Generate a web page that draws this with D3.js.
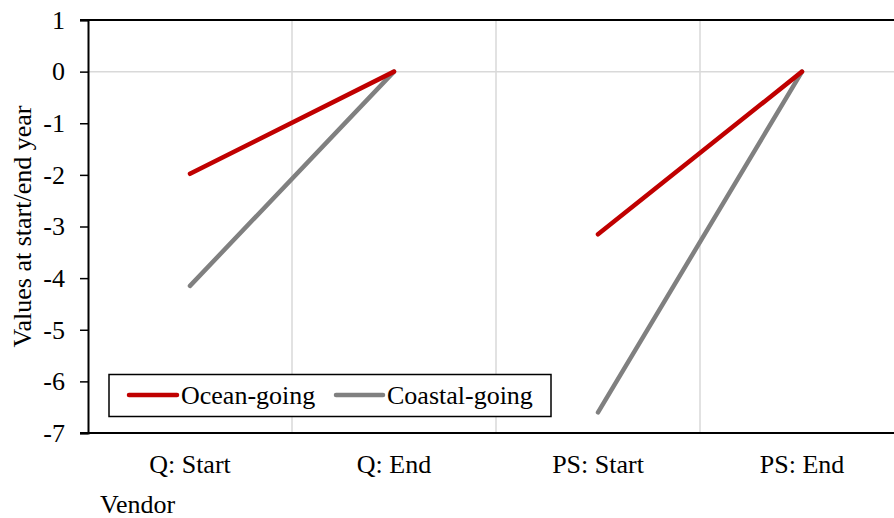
<!DOCTYPE html>
<html>
<head>
<meta charset="utf-8">
<script src="https://cdn.jsdelivr.net/npm/d3@7"></script>
<style>
  body { margin: 0; background: #fff; }
  svg text { font-family: "Liberation Serif", "Times New Roman", Times, serif; fill: #000; }
</style>
</head>
<body>
<svg id="chart" width="894" height="518"></svg>
<script>
// categories along the x axis
const categories = ['Q: Start', 'Q: End', 'PS: Start', 'PS: End'];
// two segments per series: Q start->end, PS start->end
const oceanGoing = [-1.98, 0, -3.15, 0];
const coastalGoing = [-4.15, 0, -6.6, 0];
const seriesNames = ['Ocean-going', 'Coastal-going'];
const seriesColors = ['#c00000', '#808080'];
const yTicks = [1, 0, -1, -2, -3, -4, -5, -6, -7];

const width = 894;
const height = 518;
const margin = { left: 88, top: 20, bottom: 85 };
const plotRight = 904; // plot runs a bit past the picture edge
const serif = '"Liberation Serif", "Times New Roman", Times, serif';
const fontSize = 26;

const svg = d3.select('#chart');

const x = d3.scaleBand()
	.domain(categories)
	.range([margin.left, plotRight]);

const y = d3.scaleLinear()
	.domain([-7, 1])
	.range([height - margin.bottom, margin.top]);

// vertical gridlines between categories
svg.append('g')
	.selectAll('line')
	.data(categories.slice(1))
	.join('line')
	.attr('x1', (d) => x(d))
	.attr('x2', (d) => x(d))
	.attr('y1', y(1))
	.attr('y2', y(-7))
	.attr('stroke', '#d9d9d9')
	.attr('stroke-width', 1.5);

// horizontal gridline at zero
svg.append('line')
	.attr('x1', margin.left)
	.attr('x2', width)
	.attr('y1', y(0))
	.attr('y2', y(0))
	.attr('stroke', '#d9d9d9')
	.attr('stroke-width', 1.5);

// top and bottom border lines
[1, -7].forEach((v) => {
	svg.append('line')
		.attr('x1', margin.left - 8)
		.attr('x2', width)
		.attr('y1', y(v))
		.attr('y2', y(v))
		.attr('stroke', '#000')
		.attr('stroke-width', 2);
});

// y axis
const yAxis = svg.append('g')
	.attr('transform', `translate(${margin.left},0)`)
	.call(d3.axisLeft(y).tickValues(yTicks).tickSize(8).tickPadding(15).tickFormat((d) => String(d)));
yAxis.attr('font-family', serif).attr('font-size', fontSize);
yAxis.select('.domain').attr('stroke', '#000').attr('stroke-width', 2);
yAxis.selectAll('.tick line').attr('stroke', '#000').attr('stroke-width', 1.5);
yAxis.selectAll('text').attr('fill', '#000');

// category labels
svg.append('g')
	.selectAll('text')
	.data(categories)
	.join('text')
	.attr('x', (d) => x(d) + x.bandwidth() / 2)
	.attr('y', 473)
	.attr('text-anchor', 'middle')
	.attr('font-size', fontSize)
	.text((d) => d);

// axis titles
svg.append('text')
	.attr('x', 100)
	.attr('y', 513)
	.attr('font-size', fontSize)
	.text('Vendor');

svg.append('text')
	.attr('transform', `translate(31,${(y(1) + y(-7)) / 2}) rotate(-90)`)
	.attr('text-anchor', 'middle')
	.attr('font-size', fontSize)
	.text('Values at start/end year');

// series lines, drawn as separate start->end segments
const line = d3.line()
	.x((d) => x(d.cat) + x.bandwidth() / 2)
	.y((d) => y(d.value));

[coastalGoing, oceanGoing].forEach((values, k) => {
	const color = k === 0 ? seriesColors[1] : seriesColors[0];
	const segments = [
		[{ cat: categories[0], value: values[0] }, { cat: categories[1], value: values[1] }],
		[{ cat: categories[2], value: values[2] }, { cat: categories[3], value: values[3] }],
	];
	svg.append('g')
		.selectAll('path')
		.data(segments)
		.join('path')
		.attr('d', line)
		.attr('fill', 'none')
		.attr('stroke', color)
		.attr('stroke-width', 4.5)
		.attr('stroke-linecap', 'round');
});

// legend
const legend = svg.append('g');
legend.append('rect')
	.attr('x', 109)
	.attr('y', 374.5)
	.attr('width', 442)
	.attr('height', 42)
	.attr('fill', '#fff')
	.attr('stroke', '#000')
	.attr('stroke-width', 1.5);

const legendPos = [
	{ x1: 129, x2: 177, tx: 181 },
	{ x1: 336, x2: 383, tx: 387 },
];
seriesNames.forEach((name, i) => {
	legend.append('line')
		.attr('x1', legendPos[i].x1)
		.attr('x2', legendPos[i].x2)
		.attr('y1', 395)
		.attr('y2', 395)
		.attr('stroke', seriesColors[i])
		.attr('stroke-width', 4.5)
		.attr('stroke-linecap', 'round');
	legend.append('text')
		.attr('x', legendPos[i].tx)
		.attr('y', 404)
		.attr('font-size', fontSize)
		.text(name);
});
</script>
</body>
</html>
